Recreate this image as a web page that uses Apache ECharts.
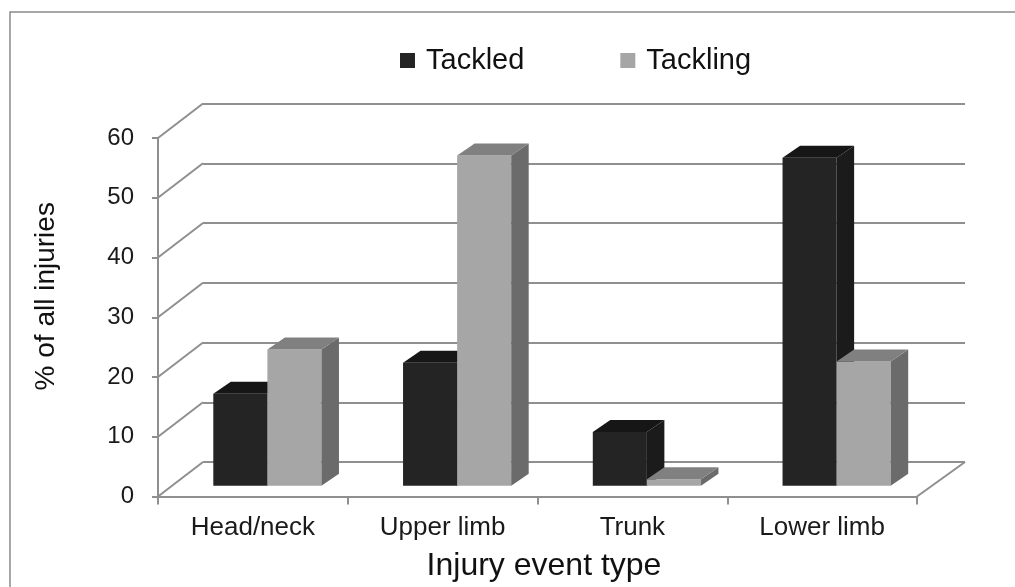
<!DOCTYPE html>
<html>
<head>
<meta charset="utf-8">
<title>Injury event type</title>
<script src="https://cdn.jsdelivr.net/npm/echarts@6/dist/echarts.min.js"></script>
<style>
  html, body { margin: 0; padding: 0; background: #ffffff; }
  #chart { width: 1015px; height: 587px; }
</style>
</head>
<body>
<div id="chart"></div>
<script>
// Injury share by event type, tackled vs tackling player
const categories = ['Head/neck', 'Upper limb', 'Trunk', 'Lower limb'];
const tackled = [15.4, 20.6, 9.0, 54.9];
const tackling = [22.8, 55.3, 1.1, 20.8];
const yTicks = [0, 10, 20, 30, 40, 50, 60];
const seriesNames = ['Tackled', 'Tackling'];

// Oblique projection used for the pseudo-3D look
const WALL_DEPTH = [45, -34.5];   // front plane -> back wall
const FLOOR_RIGHT_DEPTH = [48, -34.5];
const BAR_FRONT = [14.5, -10.7];  // front plane -> bar front face
const BAR_DEPTH = [17.5, -12];    // bar front face -> bar back face
const BAR_FRAC = 0.285;           // bar width as share of a category band

const FONT = '"Liberation Sans", Arial, sans-serif';
const LINE = '#8f8f8f';

const faces = [
  { front: '#242424', top: '#161616', side: '#1b1b1b' },
  { front: '#a6a6a6', top: '#808080', side: '#6b6b6b' }
];

function barRenderer(slot) {
  return function (params, api) {
    const cat = api.value(0);
    const base = api.coord([cat, 0]);
    const top = api.coord([cat, api.value(1)]);
    const band = api.size([1, 0])[0];
    const w = band * BAR_FRAC;
    const x0 = base[0] - w + slot * w + BAR_FRONT[0];
    const x1 = x0 + w;
    const yb = base[1] + BAR_FRONT[1];
    const yt = top[1] + BAR_FRONT[1];
    const dx = BAR_DEPTH[0], dy = BAR_DEPTH[1];
    const f = faces[slot];
    return {
      type: 'group',
      children: [
        { type: 'polygon', shape: { points: [[x0, yb], [x1, yb], [x1, yt], [x0, yt]] },
          style: { fill: f.front } },
        { type: 'polygon', shape: { points: [[x1, yb], [x1 + dx, yb + dy], [x1 + dx, yt + dy], [x1, yt]] },
          style: { fill: f.side } },
        { type: 'polygon', shape: { points: [[x0, yt], [x1, yt], [x1 + dx, yt + dy], [x0 + dx, yt + dy]] },
          style: { fill: f.top } }
      ]
    };
  };
}

// Diagonal lines of the left side wall, one per value tick
function wallRenderer(params, api) {
  const p = api.coord([0, api.value(0)]);
  const band = api.size([1, 0])[0];
  const x = p[0] - band / 2;
  return {
    type: 'line',
    shape: { x1: x, y1: p[1], x2: x + WALL_DEPTH[0], y2: p[1] + WALL_DEPTH[1] },
    style: { stroke: LINE, lineWidth: 2 }
  };
}

// Right edge of the floor
function floorEdgeRenderer(params, api) {
  const p = api.coord([api.value(0), 0]);
  const band = api.size([1, 0])[0];
  const x = p[0] + band / 2;
  return {
    type: 'line',
    shape: { x1: x, y1: p[1], x2: x + FLOOR_RIGHT_DEPTH[0], y2: p[1] + FLOOR_RIGHT_DEPTH[1] },
    style: { stroke: LINE, lineWidth: 2 }
  };
}

const chart = echarts.init(document.getElementById('chart'), null, { renderer: 'canvas' });

chart.setOption({
  animation: false,
  backgroundColor: '#ffffff',
  textStyle: { fontFamily: FONT },
  graphic: [{
    type: 'rect',
    shape: { x: 10, y: 12, width: 1040, height: 620 },
    style: { fill: 'none', stroke: '#8a8a8a', lineWidth: 1.5 },
    silent: true,
    z: -10
  }],
  legend: {
    data: seriesNames,
    left: 395,
    top: 41,
    icon: 'rect',
    itemWidth: 15,
    itemHeight: 15,
    itemGap: 96,
    textStyle: { fontSize: 29, color: '#111111', fontFamily: FONT, padding: [0, 0, 0, 6] }
  },
  grid: [
    { left: 158, top: 138, width: 759, height: 358.5, containLabel: false, outerBoundsMode: 'none' },
    { left: 203, top: 103.5, width: 762, height: 358.5, containLabel: false, outerBoundsMode: 'none' }
  ],
  xAxis: [
    {
      gridIndex: 0,
      type: 'category',
      data: categories,
      boundaryGap: true,
      axisLine: { show: true, lineStyle: { color: LINE, width: 2 } },
      axisTick: { show: true, length: 8, lineStyle: { color: LINE, width: 2 } },
      axisLabel: { fontSize: 26, color: '#1a1a1a', margin: 18, fontFamily: FONT },
      splitLine: { show: false },
      name: 'Injury event type',
      nameLocation: 'middle',
      nameGap: 54,
      nameTextStyle: { fontSize: 32, color: '#111111', fontFamily: FONT, padding: [0, 0, 0, 13] }
    },
    {
      gridIndex: 1,
      type: 'category',
      data: categories,
      show: false
    }
  ],
  yAxis: [
    {
      gridIndex: 0,
      type: 'value',
      min: 0,
      max: 60,
      interval: 10,
      axisLine: { show: true, lineStyle: { color: LINE, width: 2 } },
      axisTick: { show: true, length: 6, lineStyle: { color: LINE, width: 2 } },
      axisLabel: { fontSize: 24, color: '#1a1a1a', margin: 24, fontFamily: FONT,
        formatter: function (v) { return yTicks.indexOf(v) >= 0 ? String(v) : ''; } },
      splitLine: { show: false },
      name: '% of all injuries',
      nameLocation: 'middle',
      nameGap: 98,
      nameTextStyle: { fontSize: 28, color: '#111111', fontFamily: FONT, padding: [0, 0, 0, 42] }
    },
    {
      gridIndex: 1,
      type: 'value',
      min: 0,
      max: 60,
      interval: 10,
      axisLine: { show: false },
      axisTick: { show: false },
      axisLabel: { show: false },
      splitLine: { show: true, lineStyle: { color: LINE, width: 2 } }
    }
  ],
  series: [
    {
      type: 'custom',
      name: 'wall',
      xAxisIndex: 0,
      yAxisIndex: 0,
      silent: true,
      z: 1,
      renderItem: wallRenderer,
      data: yTicks.map(function (v) { return [v]; })
    },
    {
      type: 'custom',
      name: 'floor',
      xAxisIndex: 0,
      yAxisIndex: 0,
      silent: true,
      z: 1,
      renderItem: floorEdgeRenderer,
      data: [[categories.length - 1]]
    },
    {
      type: 'custom',
      name: seriesNames[0],
      xAxisIndex: 0,
      yAxisIndex: 0,
      z: 2,
      itemStyle: { color: faces[0].front },
      renderItem: barRenderer(0),
      encode: { x: 0, y: 1 },
      data: tackled.map(function (v, i) { return [i, v]; })
    },
    {
      type: 'custom',
      name: seriesNames[1],
      xAxisIndex: 0,
      yAxisIndex: 0,
      z: 3,
      itemStyle: { color: faces[1].front },
      renderItem: barRenderer(1),
      encode: { x: 0, y: 1 },
      data: tackling.map(function (v, i) { return [i, v]; })
    }
  ]
});
</script>
</body>
</html>
